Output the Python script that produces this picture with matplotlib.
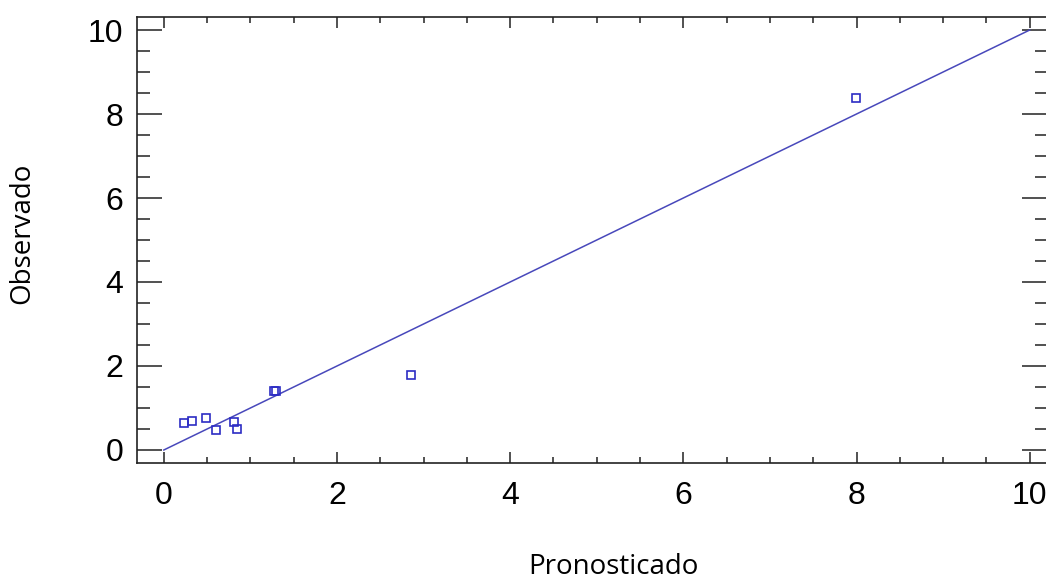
import numpy as np
import matplotlib
matplotlib.use("Agg")
from matplotlib import pyplot as plt
from matplotlib.ticker import MultipleLocator

pronosticado = [0.23, 0.32, 0.49, 0.60, 0.81, 0.85, 1.27, 1.30, 2.85, 7.99]
observado = [0.64, 0.70, 0.76, 0.47, 0.67, 0.49, 1.40, 1.40, 1.79, 8.38]
diag = [0, 10]

W, H = 1046, 583
fig = plt.figure(figsize=(W / 100, H / 100), dpi=100)
ax = fig.add_axes([137 / W, 1 - 463 / H, (W - 137 + 1) / W, (463 - 17) / H])

ax.plot(diag, diag, color='#4848bb', lw=1.1)
ax.plot(pronosticado, observado, ls='none', marker='s', ms=6,
        mfc='none', mec='#2c2cc4', mew=1.2)

ax.set_xlim(-0.31, 10.2)
ax.set_ylim(-0.31, 10.31)
ax.xaxis.set_major_locator(MultipleLocator(2))
ax.xaxis.set_minor_locator(MultipleLocator(0.5))
ax.yaxis.set_major_locator(MultipleLocator(2))
ax.yaxis.set_minor_locator(MultipleLocator(0.5))

ax.spines['right'].set_visible(False)
for s in ['left', 'top', 'bottom']:
    ax.spines[s].set_linewidth(1.2)
    ax.spines[s].set_color('#222222')

ax.tick_params(axis='both', which='both', direction='in', top=True, right=True,
               color='#222222', width=1.1, labelsize=23)
ax.tick_params(axis='x', which='major', length=8, pad=13)
ax.tick_params(axis='x', which='minor', length=4)
ax.tick_params(axis='y', which='major', length=18, pad=10)
ax.tick_params(axis='y', which='minor', length=9)
for lab in ax.get_xticklabels() + ax.get_yticklabels():
    lab.set_family('Liberation Sans')

ax.set_xlabel('Pronosticado', fontsize=20, family='Open Sans', va='bottom')
ax.set_ylabel('Observado', fontsize=20, family='Open Sans', va='center')
ax.xaxis.set_label_coords((613 - 137) / 909, (463 - 581) / 446)
ax.yaxis.set_label_coords((22 - 137) / 909, (463 - 233) / 446)

fig.savefig('out.png', dpi=100)
